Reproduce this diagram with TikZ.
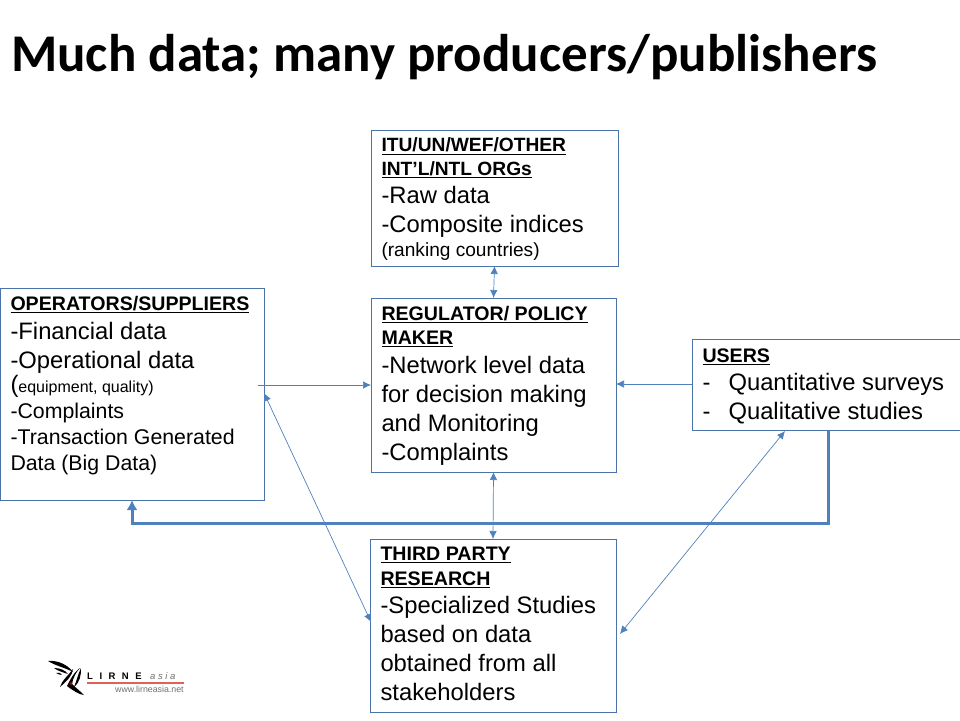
\documentclass[tikz,border=0pt]{standalone}
\usepackage{fontspec}
\setmainfont{Liberation Sans}
\newfontfamily\titlefont{Carlito}
\definecolor{boxline}{HTML}{4A74A8}
\definecolor{arrowblue}{HTML}{4F81BD}
\definecolor{logored}{HTML}{E0605A}
\definecolor{loggray}{HTML}{707070}
\newcommand{\tline}[3]{{\fontsize{#1}{#2}\selectfont #3\par}}
\newcommand{\hd}[1]{\tline{19.6}{24.5}{\textbf{\underline{#1}}}}
\newcommand{\bg}[1]{\tline{23.8}{29}{#1}}
\newcommand{\md}[1]{\tline{21.3}{26}{#1}}
\newcommand{\boxtext}[4]{\parbox[c][#2pt][t]{#1pt}{\raggedright\leftskip=10.5pt\vspace*{#3pt}#4}}
\tikzset{
  x=1pt,y=-1pt,
  infobox/.style={draw=boxline,line width=0.8pt,fill=white,inner sep=0pt,outer sep=0pt,anchor=north west},
  thin arrow/.style={draw=arrowblue,line width=0.7pt,{Latex[length=8pt,width=7.5pt]}-{Latex[length=8pt,width=7.5pt]}},
  one arrow/.style={draw=arrowblue,line width=0.7pt,-{Latex[length=8pt,width=7.5pt]}},
  thick arrow/.style={draw=arrowblue,line width=3pt,line join=miter,-{Latex[length=10pt,width=11pt]}},
}
\usetikzlibrary{arrows.meta}
\begin{document}
\begin{tikzpicture}
\useasboundingbox (0,0) rectangle (960,720);
\node[anchor=base west,inner sep=0pt] (title) at (11,71) {\titlefont\bfseries\fontsize{53}{55}\selectfont Much data; many producers/publishers};

\node[infobox] (itu) at (371,130) {\boxtext{247}{136}{8}{%
\tline{19.2}{23.5}{\textbf{\underline{ITU/UN/WEF/OTHER}}}\tline{19.2}{23.5}{\textbf{\underline{INT’L/NTL ORGs}}}\tline{23.8}{28}{-Raw data}\bg{-Composite indices}\tline{19.1}{24}{(ranking countries)}}};

\node[infobox] (reg) at (371,298) {\boxtext{245}{174}{8}{%
\hd{REGULATOR/ POLICY}\hd{MAKER}\bg{-Network level data}\bg{for decision making}\bg{and Monitoring}\bg{-Complaints}}};

\node[infobox] (ops) at (0,288) {\boxtext{264}{212}{8.5}{%
\hd{OPERATORS/SUPPLIERS}\tline{23.8}{28.5}{-Financial data}\bg{-Operational data}\tline{23.8}{24}{({\fontsize{16}{14}\selectfont equipment, quality)}}\md{-Complaints}\md{-Transaction Generated}\md{Data (Big Data)}}};

\node[infobox] (users) at (692,339) {\boxtext{272}{91}{9.5}{%
\hd{USERS}\tline{23.8}{28}{\makebox[26pt][l]{-}Quantitative surveys}\bg{\makebox[26pt][l]{-}Qualitative studies}}};

\node[infobox] (third) at (370,539) {\boxtext{246}{173}{8.5}{%
\hd{THIRD PARTY}\hd{RESEARCH}\tline{23.8}{28}{-Specialized Studies}\bg{based on data}\bg{obtained from all}\bg{stakeholders}}};

% connector ends
\coordinate (opsout) at (258,385);
\coordinate (regin) at (reg.west |- opsout);
\coordinate (usersout) at (users.west |- 0,384);
\coordinate (regin2) at (reg.east |- usersout);
\coordinate (opsside) at (264,393);
\coordinate (thirdside) at (371,622);
\coordinate (usersb) at (785,431);
\coordinate (thirdr) at (620,634);
\coordinate (usersc) at (828,431);
\coordinate (opsb) at (132,500);

\draw[thin arrow] (itu.south) -- (reg.north);
\draw[thin arrow] (reg.south) -- (third.north);
\draw[one arrow] (opsout) -- (regin);
\draw[one arrow] (usersout) -- (regin2);
\draw[thin arrow] (opsside) -- (thirdside);
\draw[thin arrow] (usersb) -- (thirdr);
\draw[thick arrow] (usersc) -- (828,523) -- (132,523) -- (opsb);

% logo
\fill[black] (48,661) .. controls (58,660) and (68,665) .. (73,672) .. controls (66,668) and (56,666) .. (48,661) -- cycle;
\fill[black] (54,668) .. controls (60,668) and (65,670) .. (68,674) .. controls (62,672) and (58,671) .. (54,668) -- cycle;
\fill[black] (56,673) .. controls (59,672) and (61,673) .. (62,675) .. controls (60,675) and (58,674) .. (56,673) -- cycle;
\fill[black] (73,669) .. controls (72,676) and (68,680) .. (60,687) .. controls (62,680) and (68,676) .. (73,669) -- cycle;
\fill[black] (80,668) .. controls (76,672) and (73,678) .. (72,684) .. controls (76,688) and (79,690) .. (84,695) .. controls (80,695) and (72,690) .. (67,686) .. controls (70,680) and (74,672) .. (80,668) -- cycle;
\fill[black] (81,668) .. controls (81,676) and (80,682) .. (74,687) .. controls (77,680) and (78,674) .. (81,668) -- cycle;
\fill[red!80!black] (71,683.5) circle (1.3);
\node[anchor=base west,inner sep=0pt,font=\fontsize{9.5}{10}\selectfont\bfseries] (lirne) at (87,679) {L\hspace{6.5pt}I\hspace{6.5pt}R\hspace{6.5pt}N\hspace{6.5pt}E};
\node[anchor=base west,inner sep=0pt,text=loggray,font=\fontsize{9.5}{10}\selectfont\itshape] (asia) at (150,679) {a\hspace{2.6pt}s\hspace{2.6pt}i\hspace{2.6pt}a};
\draw[logored,line width=1.3pt] (87,683) -- (184,683);
\node[anchor=base west,inner sep=0pt,text=loggray,font=\fontsize{8.8}{9}\selectfont] (web) at (115,692.5) {www.lirneasia.net};
\end{tikzpicture}
\end{document}
